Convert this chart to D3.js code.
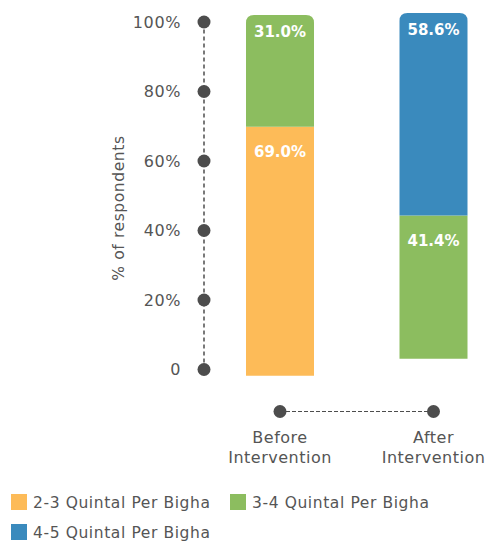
<!DOCTYPE html>
<html>
<head>
<meta charset="utf-8">
<script src="https://cdn.jsdelivr.net/npm/d3@7/dist/d3.min.js"></script>
<style>
  html, body { margin: 0; padding: 0; background: #fff; }
  svg { display: block; font-family: "DejaVu Sans", sans-serif; }
</style>
</head>
<body>
<svg id="chart" width="487" height="542"></svg>
<script>
// Share of respondents by yield band, before and after the intervention
const categories = ["Before Intervention", "After Intervention"];
const categoryLines = [["Before", "Intervention"], ["After", "Intervention"]];
const seriesNames = ["2-3 Quintal Per Bigha", "3-4 Quintal Per Bigha", "4-5 Quintal Per Bigha"];
const yield2to3 = [69.0, 0];
const yield3to4 = [31.0, 41.4];
const yield4to5 = [0, 58.6];
const yTicks = [0, 20, 40, 60, 80, 100];
const yTickLabels = ["0", "20%", "40%", "60%", "80%", "100%"];

const colors = ["#FDBB58", "#8CBD5F", "#3A8ABD"];
const textColor = "#555555";
const dotColor = "#4d4d4d";

const svg = d3.select("#chart");

// Axis scale (dotted guide on the left)
const y = d3.scaleLinear().domain([0, 100]).range([369.5, 22]);

// Each column sits on its own baseline
const barRanges = [[375.7, 15], [358.7, 13]];
const barScales = barRanges.map(r => d3.scaleLinear().domain([0, 100]).range(r));

const x = d3.scalePoint().domain(categories).range([280, 433.5]);
const barWidth = 68;
const radius = 8;

// Stack the series
const rows = categories.map((c, i) => ({
  cat: c,
  [seriesNames[0]]: yield2to3[i],
  [seriesNames[1]]: yield3to4[i],
  [seriesNames[2]]: yield4to5[i]
}));
const stacked = d3.stack().keys(seriesNames)(rows);

// Left guide: dashed line + dots + labels
const axisX = 204;
svg.append("line")
  .attr("x1", axisX).attr("x2", axisX)
  .attr("y1", y(0)).attr("y2", y(100))
  .attr("stroke", dotColor).attr("stroke-width", 1.5)
  .attr("stroke-dasharray", "4,3");

const ticks = svg.append("g");
ticks.selectAll("circle").data(yTicks).join("circle")
  .attr("cx", axisX).attr("cy", d => y(d)).attr("r", 6.5)
  .attr("fill", dotColor);
ticks.selectAll("text").data(yTicks).join("text")
  .attr("x", 181).attr("y", d => y(d))
  .attr("dy", "0.36em")
  .attr("text-anchor", "end")
  .attr("fill", textColor)
  .attr("font-size", 16)
  .attr("letter-spacing", 0.6)
  .text((d, i) => yTickLabels[i]);

svg.append("text")
  .attr("transform", "translate(124,208) rotate(-90)")
  .attr("text-anchor", "middle")
  .attr("fill", textColor)
  .attr("font-size", 15.5)
  .attr("letter-spacing", 0.6)
  .text("% of respondents");

// Rounded-top rectangle path
function barPath(x0, y0, w, h, r) {
  if (r <= 0) return `M${x0},${y0}h${w}v${h}h${-w}Z`;
  return `M${x0},${y0 + h}V${y0 + r}Q${x0},${y0} ${x0 + r},${y0}H${x0 + w - r}Q${x0 + w},${y0} ${x0 + w},${y0 + r}V${y0 + h}Z`;
}

// Topmost non-empty series per category
const topIndex = categories.map((c, i) => {
  let t = -1;
  stacked.forEach((s, k) => { if (s[i][1] - s[i][0] > 0) t = k; });
  return t;
});

const bars = svg.append("g");
stacked.forEach((s, k) => {
  s.forEach((seg, i) => {
    const v = seg[1] - seg[0];
    if (v <= 0) return;
    const sc = barScales[i];
    const yTop = sc(seg[1]);
    const yBot = sc(seg[0]);
    const isTop = k === topIndex[i];
    const x0 = x(categories[i]) - barWidth / 2;
    bars.append("path")
      .attr("d", barPath(x0, yTop, barWidth, yBot - yTop, isTop ? radius : 0))
      .attr("fill", colors[k]);
    bars.append("text")
      .attr("x", x(categories[i]))
      .attr("y", yTop + (isTop ? 22 : 30))
      .attr("text-anchor", "middle")
      .attr("fill", "#ffffff")
      .attr("font-weight", "bold")
      .attr("font-size", 15)
      .text(v.toFixed(1) + "%");
  });
});

// Bottom guide: dashed line with category dots
const bottomY = 411.5;
svg.append("line")
  .attr("x1", x(categories[0])).attr("x2", x(categories[1]))
  .attr("y1", bottomY).attr("y2", bottomY)
  .attr("stroke", dotColor).attr("stroke-width", 1.2)
  .attr("stroke-dasharray", "4,2");
svg.append("g").selectAll("circle").data(categories).join("circle")
  .attr("cx", d => x(d)).attr("cy", bottomY).attr("r", 6.5)
  .attr("fill", dotColor);

const catLabels = svg.append("g");
categories.forEach((c, i) => {
  const t = catLabels.append("text")
    .attr("x", x(c))
    .attr("text-anchor", "middle")
    .attr("fill", textColor)
    .attr("font-size", 16)
    .attr("letter-spacing", 0.5);
  categoryLines[i].forEach((line, j) => {
    t.append("tspan").attr("x", x(c)).attr("y", 443 + j * 20).text(line);
  });
});

// Legend
const legendPos = [[11, 494], [230, 494], [11, 524]];
const legend = svg.append("g");
seriesNames.forEach((name, k) => {
  const [lx, ly] = legendPos[k];
  legend.append("rect")
    .attr("x", lx).attr("y", ly).attr("width", 16).attr("height", 16)
    .attr("fill", colors[k]);
  legend.append("text")
    .attr("x", lx + 22).attr("y", ly + 14)
    .attr("fill", textColor)
    .attr("font-size", 15.5)
    .attr("letter-spacing", 0.6)
    .text(name);
});
</script>
</body>
</html>
